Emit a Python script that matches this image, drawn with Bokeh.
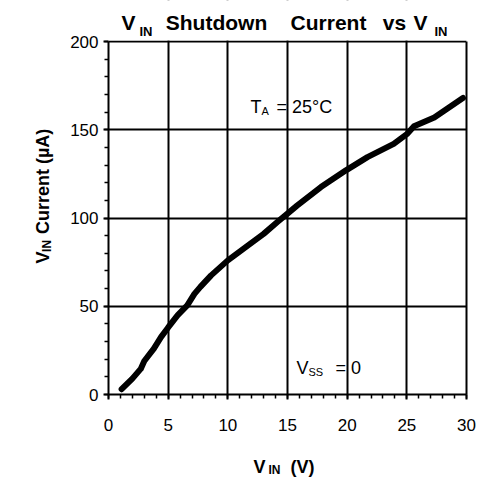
import math
from bokeh.plotting import figure
from bokeh.layouts import column, row
from bokeh.models import (Label, SingleIntervalTicker, FixedTicker, Range1d,
                          LinearAxis, BoxAnnotation)
from bokeh.embed import file_html
from bokeh.resources import INLINE

# Data
vin = [1.1, 2.0, 2.7, 3.0, 3.8, 4.4, 5.0, 5.8, 6.6, 7.2, 7.7, 8.6, 10.0, 11.3,
       13.0, 14.2, 15.0, 15.8, 17.8, 19.9, 21.7, 23.9, 25.0, 25.6, 27.3, 29.7]
current_ua = [3, 9, 14.5, 19, 26, 32.5, 38, 45, 50.5, 57, 61, 67.5, 76, 82.5,
              91, 98, 102.5, 107, 117.5, 127, 134.5, 142, 147.5, 152, 157, 168]

x_min, x_max = 0, 30
y_min, y_max = 0, 200

FONT = "Liberation Sans"

# page geometry (pixels)
FRAME_L, FRAME_R, AX_TOP, FRAME_B = 108, 466, 41, 394
MID_H = 442
BOT_H = 35
LEFT_W = 60
MAIN_W = 417

px_per_unit = (FRAME_B - AX_TOP) / (y_max - y_min)
y_top = y_max + AX_TOP / px_per_unit   # frame reaches page top; title lives there

# ---------------- main chart ----------------
p = figure(width=MAIN_W, height=MID_H,
           x_range=Range1d(x_min, x_max), y_range=Range1d(y_min, y_top),
           output_backend="svg", toolbar_location=None,
           min_border_left=FRAME_L - LEFT_W,
           min_border_right=LEFT_W + MAIN_W - FRAME_R,
           min_border_top=0, min_border_bottom=MID_H - FRAME_B)
p.background_fill_color = "white"
p.border_fill_color = "white"
p.outline_line_color = None

p.xaxis.ticker = SingleIntervalTicker(interval=5, num_minor_ticks=5)
p.yaxis.ticker = SingleIntervalTicker(interval=50, num_minor_ticks=5)
p.yaxis.bounds = (y_min, y_max)

for ax in (p.xaxis, p.yaxis):
    ax.axis_line_color = "black"
    ax.axis_line_width = 2
    ax.major_tick_line_color = "black"
    ax.major_tick_line_width = 2
    ax.major_tick_in = 0
    ax.major_tick_out = 5
    ax.minor_tick_line_color = "black"
    ax.minor_tick_line_width = 1.5
    ax.minor_tick_in = 0
    ax.minor_tick_out = 4
    ax.major_label_text_font = FONT
    ax.major_label_text_font_size = "17px"
    ax.major_label_text_color = "black"
p.xaxis.major_label_standoff = 19
p.yaxis.major_label_standoff = 5

# right border of the plot area as an axis line without ticks
right_ax = LinearAxis(ticker=FixedTicker(ticks=[]), bounds=(y_min, y_max),
                      axis_line_color="black", axis_line_width=2,
                      major_tick_line_color=None, minor_tick_line_color=None)
p.add_layout(right_ax, "right")

p.grid.grid_line_color = "black"
p.grid.grid_line_width = 2
p.grid.grid_line_alpha = 1.0

p.line(vin, current_ua, line_color="black", line_width=6,
       line_join="round", line_cap="round")

# blank the title area above the plot box
p.add_layout(BoxAnnotation(bottom=y_max + 1.0 / px_per_unit, fill_color="white",
                           fill_alpha=1.0, line_color=None))


def fx(px):
    return (px - FRAME_L) * (x_max - x_min) / (FRAME_R - FRAME_L)


def fy(py):
    return (FRAME_B - py) / px_per_unit


def add_label(fig, text, x, y, size, bold=False, angle=0.0, align="left"):
    fig.add_layout(Label(x=x, y=y, text=text, text_font=FONT,
                         text_font_size=size,
                         text_font_style="bold" if bold else "normal",
                         text_color="black", text_align=align,
                         text_baseline="alphabetic", angle=angle))


# Title: V_IN Shutdown Current vs V_IN
for t, px, py, sz, al in [("V", 121, 22, "21px", "left"),
                          ("IN", 139, 31, "13px", "left"),
                          ("Shutdown", 216, 22, "21px", "center"),
                          ("Current", 328, 22, "21px", "center"),
                          ("vs", 394, 22, "21px", "center"),
                          ("V", 413, 22, "21px", "left"),
                          ("IN", 434, 31, "13px", "left")]:
    add_label(p, t, fx(px), fy(py), sz, True, 0.0, al)

# Annotations inside the plot
for t, px, py, sz in [("T", 250, 106, "18px"), ("A", 261, 110, "11px"),
                      ("= 25°C", 276, 106, "18px"),
                      ("V", 296, 367, "18px"), ("SS", 308, 371, "11px"),
                      ("= 0", 335, 367, "18px")]:
    add_label(p, t, fx(px), fy(py), sz)


# ---------------- text strips ----------------
def text_fig(w, h):
    f = figure(width=w, height=h, x_range=Range1d(0, w), y_range=Range1d(h, 0),
               output_backend="svg", toolbar_location=None, min_border=0,
               x_axis_location=None, y_axis_location=None)
    f.outline_line_color = None
    f.xgrid.visible = False
    f.ygrid.visible = False
    f.background_fill_color = "white"
    f.border_fill_color = "white"
    return f


ylab_fig = text_fig(LEFT_W, MID_H)
rot = math.pi / 2
for t, px, py, sz in [("V", 42, 295, "18px"), ("IN", 46, 282, "12px"),
                      ("Current (µA)", 42, 262, "18px")]:
    add_label(ylab_fig, t, px, py, sz, True, rot)

xlab_fig = text_fig(LEFT_W + MAIN_W, BOT_H)
for t, px, py, sz in [("V", 253, 466, "18px"), ("IN", 268, 469, "12px"),
                      ("(V)", 290, 466, "18px")]:
    add_label(xlab_fig, t, px, py - MID_H, sz, True)

layout = column(row(ylab_fig, p, spacing=0), xlab_fig, spacing=0)

open("out.html", "w").write(file_html(layout, INLINE))
